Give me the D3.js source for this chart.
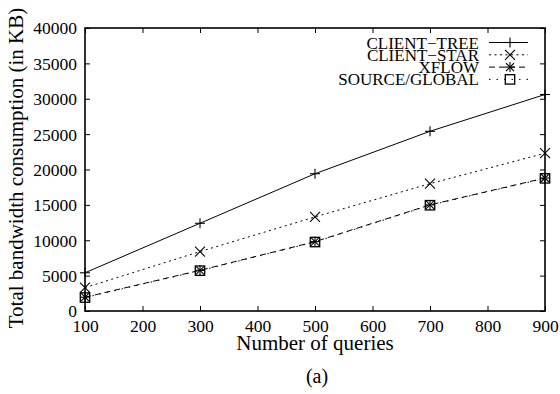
<!DOCTYPE html>
<html>
<head>
<meta charset="utf-8">
<script src="https://cdn.jsdelivr.net/npm/d3@7"></script>
<style>
  html, body { margin: 0; padding: 0; background: #fff; }
  svg { display: block; }
  text { font-family: "Liberation Serif", "Times New Roman", serif; fill: #000; }
</style>
</head>
<body>
<svg id="chart" width="560" height="394"></svg>
<script>
// Number of queries on the x axis
const queries = [100, 300, 500, 700, 900];

// Total bandwidth consumption (KB) per approach
const clientTree = [5400, 12400, 19400, 25400, 30600];
const clientStar = [3300, 8400, 13300, 18000, 22300];
const xflow = [1950, 5750, 9800, 15000, 18800];
const sourceGlobal = [1900, 5700, 9750, 14950, 18750];

const seriesNames = ["CLIENT\u2212TREE", "CLIENT\u2212STAR", "XFLOW", "SOURCE/GLOBAL"];

const xTicks = [100, 200, 300, 400, 500, 600, 700, 800, 900];
const yTicks = [0, 5000, 10000, 15000, 20000, 25000, 30000, 35000, 40000];

const series = [
  { name: seriesNames[0], values: clientTree, dash: null, marker: "plus" },
  { name: seriesNames[1], values: clientStar, dash: "2,3.5", marker: "cross" },
  { name: seriesNames[2], values: xflow, dash: "6,4", marker: "star" },
  { name: seriesNames[3], values: sourceGlobal, dash: "1.5,6", marker: "square" }
];

const svg = d3.select("#chart");
const plot = { left: 85, right: 545, top: 28, bottom: 311 };

const x = d3.scaleLinear().domain([100, 900]).range([plot.left, plot.right]);
const y = d3.scaleLinear().domain([0, 40000]).range([plot.bottom, plot.top]);

const tickLen = 5;

// Axes with inward ticks (bottom / left carry labels, top / right mirror)
const gx = svg.append("g").attr("transform", `translate(0,${plot.bottom})`)
  .call(d3.axisBottom(x).tickValues(xTicks).tickSize(-tickLen).tickPadding(9).tickFormat(d3.format("d")));
const gxTop = svg.append("g").attr("transform", `translate(0,${plot.top})`)
  .call(d3.axisTop(x).tickValues(xTicks).tickSize(-tickLen).tickFormat(""));
const gy = svg.append("g").attr("transform", `translate(${plot.left},0)`)
  .call(d3.axisLeft(y).tickValues(yTicks).tickSize(-tickLen).tickPadding(8).tickFormat(d3.format("d")));
const gyRight = svg.append("g").attr("transform", `translate(${plot.right},0)`)
  .call(d3.axisRight(y).tickValues(yTicks).tickSize(-tickLen).tickFormat(""));

[gx, gxTop, gy, gyRight].forEach(g => {
  g.select(".domain").remove();
  g.selectAll(".tick line").attr("stroke", "#000").attr("stroke-width", 1);
  g.selectAll(".tick text").attr("font-size", 17.5).attr("fill", "#000")
    .style("font-family", '"Liberation Serif", "Times New Roman", serif');
});
gy.selectAll(".tick text").attr("dy", "0.34em");
gx.selectAll(".tick text").attr("dy", "0.7em");

// Plot frame
svg.append("rect")
  .attr("x", plot.left).attr("y", plot.top)
  .attr("width", plot.right - plot.left).attr("height", plot.bottom - plot.top)
  .attr("fill", "none").attr("stroke", "#000").attr("stroke-width", 1.6);

// Marker shapes
function drawMarker(g, type, cx, cy) {
  const s = 5;
  const m = g.append("g").attr("transform", `translate(${cx},${cy})`)
    .attr("stroke", "#000").attr("stroke-width", 1.1).attr("fill", "none");
  if (type === "plus" || type === "star") {
    m.append("line").attr("x1", -s).attr("x2", s).attr("y1", 0).attr("y2", 0);
    m.append("line").attr("x1", 0).attr("x2", 0).attr("y1", -s).attr("y2", s);
  }
  if (type === "cross" || type === "star") {
    const c = type === "star" ? 4 : 5;
    m.append("line").attr("x1", -c).attr("x2", c).attr("y1", -c).attr("y2", c);
    m.append("line").attr("x1", -c).attr("x2", c).attr("y1", c).attr("y2", -c);
  }
  if (type === "square") {
    m.append("rect").attr("x", -4.7).attr("y", -4.7).attr("width", 9.4).attr("height", 9.4)
      .attr("stroke-width", 1.3);
  }
}

const line = d3.line().x((d, i) => x(queries[i])).y(d => y(d));

series.forEach(s => {
  svg.append("path")
    .datum(s.values)
    .attr("d", line)
    .attr("fill", "none")
    .attr("stroke", "#000")
    .attr("stroke-width", 1)
    .attr("stroke-dasharray", s.dash);
  const mg = svg.append("g");
  s.values.forEach((v, i) => drawMarker(mg, s.marker, x(queries[i]), y(v)));
});

// Legend (top right, text right-aligned, rows tightly packed)
const legend = svg.append("g");
series.forEach((s, i) => {
  const base = 48.5 + i * 12.3;
  const ly = base - 6;
  legend.append("text")
    .attr("x", 479).attr("y", base)
    .attr("text-anchor", "end")
    .attr("font-size", 17)
    .text(s.name);
  legend.append("line")
    .attr("x1", 489).attr("x2", 528).attr("y1", ly).attr("y2", ly)
    .attr("stroke", "#000").attr("stroke-width", 1)
    .attr("stroke-dasharray", s.dash);
  drawMarker(legend, s.marker, 510, ly);
});

// Axis titles
svg.append("text")
  .attr("x", (plot.left + plot.right) / 2).attr("y", 350)
  .attr("text-anchor", "middle")
  .attr("font-size", 21)
  .text("Number of queries");

svg.append("text")
  .attr("transform", "translate(23,168) rotate(-90)")
  .attr("text-anchor", "middle")
  .attr("font-size", 21)
  .text("Total bandwidth consumption (in KB)");

// Sub-figure caption
svg.append("text")
  .attr("x", 317).attr("y", 383)
  .attr("text-anchor", "middle")
  .attr("font-size", 20)
  .text("(a)");
</script>
</body>
</html>
